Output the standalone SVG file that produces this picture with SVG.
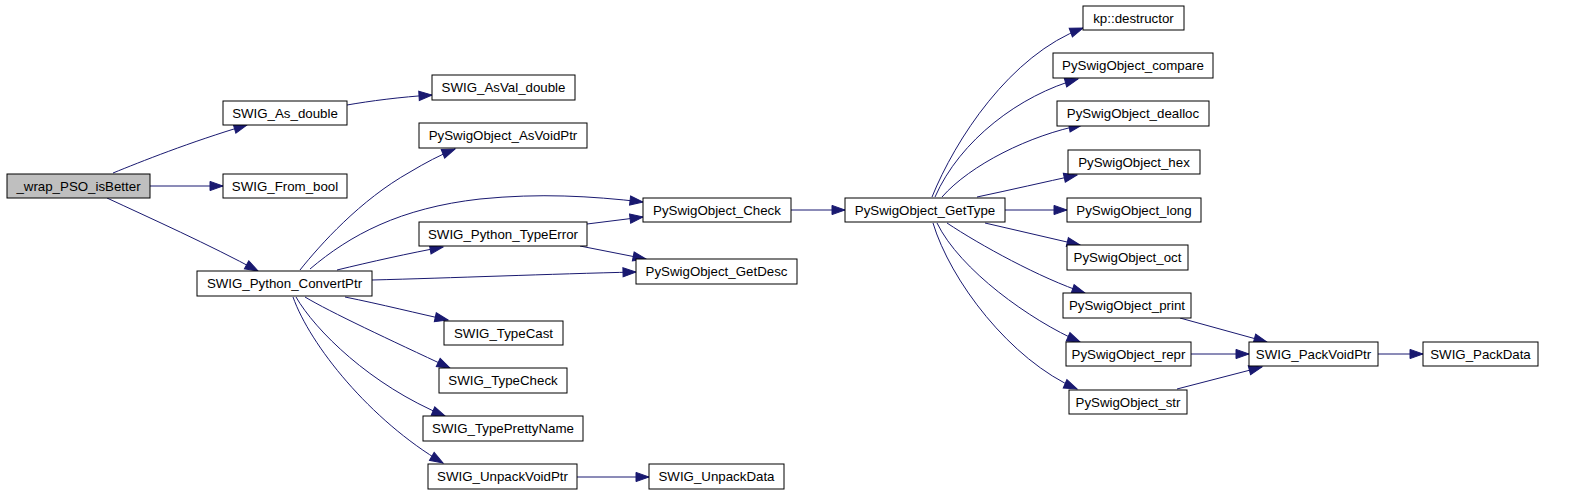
<svg xmlns="http://www.w3.org/2000/svg" width="1571" height="493" viewBox="0 0 1571 493">
<style>
.n rect{fill:#fff;stroke:#000;stroke-width:1}
.n.root rect{fill:#bfbfbf}
.n text{font-family:"Liberation Sans",Arial,sans-serif;font-size:13.3px;text-anchor:middle;fill:#000}
.e path{fill:none;stroke:#191970;stroke-width:1;marker-end:url(#a)}
</style>
<defs>
<marker id="a" markerWidth="14" markerHeight="10" refX="13" refY="4.6" orient="auto" markerUnits="userSpaceOnUse" overflow="visible">
<path d="M0,0 L13,4.6 L0,9.2 z" fill="#191970" stroke="#191970" stroke-width="1"/>
</marker>
</defs>
<rect width="1571" height="493" fill="#fff"/>
<g id="edges" class="e">
<path d="M113,173 C140,162 190,142 247,125"/>
<path d="M150,186 L223,186"/>
<path d="M107,198 C150,218 210,245 258,271"/>
<path d="M347,105 C370,101 400,97 432,95"/>
<path d="M300,270 C320,245 360,200 410,172 C425,163 440,155 455,149"/>
<path d="M310,269 C350,235 400,208 480,199 C540,193 590,196 643,202"/>
<path d="M337,270 C370,262 410,253 443,247"/>
<path d="M587,224 L643,217"/>
<path d="M580,246 L646,259"/>
<path d="M372,280 C450,278 550,274 636,272"/>
<path d="M345,297 C380,304 420,314 448,320"/>
<path d="M305,297 C330,312 390,340 450,368"/>
<path d="M296,297 C315,330 370,385 445,416"/>
<path d="M293,297 C310,345 370,420 443,463"/>
<path d="M577,477 L649,477"/>
<path d="M791,210 L845,210"/>
<path d="M932,197 C955,140 1010,55 1083,28"/>
<path d="M935,197 C960,140 1020,95 1078,79"/>
<path d="M942,197 C970,165 1030,135 1082,125"/>
<path d="M977,197 C1010,190 1045,182 1077,175"/>
<path d="M1005,210 L1067,210"/>
<path d="M985,223 L1080,245"/>
<path d="M947,223 C980,245 1040,278 1085,293"/>
<path d="M937,223 C960,270 1030,320 1080,342"/>
<path d="M933,223 C950,280 1010,360 1077,389"/>
<path d="M1180,318 L1267,342"/>
<path d="M1191,354 L1249,354"/>
<path d="M1177,389 L1262,367"/>
<path d="M1378,354 L1423,354"/>
</g>
<g id="n_wrap" class="n root"><rect x="7" y="174" width="143" height="24"/><text x="78.5" y="191">_wrap_PSO_isBetter</text></g>
<g id="n_as_double" class="n"><rect x="223" y="101" width="124" height="24"/><text x="285" y="118">SWIG_As_double</text></g>
<g id="n_from_bool" class="n"><rect x="223" y="174" width="124" height="24"/><text x="285" y="191">SWIG_From_bool</text></g>
<g id="n_convertptr" class="n"><rect x="197" y="271" width="175" height="25"/><text x="284.5" y="288">SWIG_Python_ConvertPtr</text></g>
<g id="n_asval_double" class="n"><rect x="432" y="75" width="143" height="25"/><text x="503.5" y="92">SWIG_AsVal_double</text></g>
<g id="n_asvoidptr" class="n"><rect x="419" y="123" width="168" height="25"/><text x="503" y="140">PySwigObject_AsVoidPtr</text></g>
<g id="n_typeerror" class="n"><rect x="419" y="222" width="168" height="24"/><text x="503" y="239">SWIG_Python_TypeError</text></g>
<g id="n_check" class="n"><rect x="643" y="198" width="148" height="24"/><text x="717" y="215">PySwigObject_Check</text></g>
<g id="n_getdesc" class="n"><rect x="636" y="259" width="161" height="25"/><text x="716.5" y="276">PySwigObject_GetDesc</text></g>
<g id="n_typecast" class="n"><rect x="444" y="321" width="119" height="24"/><text x="503.5" y="338">SWIG_TypeCast</text></g>
<g id="n_typecheck" class="n"><rect x="439" y="368" width="128" height="25"/><text x="503" y="385">SWIG_TypeCheck</text></g>
<g id="n_prettyname" class="n"><rect x="423" y="416" width="160" height="25"/><text x="503" y="433">SWIG_TypePrettyName</text></g>
<g id="n_unpackvoidptr" class="n"><rect x="428" y="464" width="149" height="25"/><text x="502.5" y="481">SWIG_UnpackVoidPtr</text></g>
<g id="n_unpackdata" class="n"><rect x="649" y="464" width="135" height="25"/><text x="716.5" y="481">SWIG_UnpackData</text></g>
<g id="n_gettype" class="n"><rect x="845" y="198" width="160" height="24"/><text x="925" y="215">PySwigObject_GetType</text></g>
<g id="n_destructor" class="n"><rect x="1083" y="6" width="101" height="24"/><text x="1133.5" y="23">kp::destructor</text></g>
<g id="n_compare" class="n"><rect x="1053" y="53" width="160" height="25"/><text x="1133" y="70">PySwigObject_compare</text></g>
<g id="n_dealloc" class="n"><rect x="1057" y="101" width="152" height="25"/><text x="1133" y="118">PySwigObject_dealloc</text></g>
<g id="n_hex" class="n"><rect x="1068" y="150" width="132" height="24"/><text x="1134" y="167">PySwigObject_hex</text></g>
<g id="n_long" class="n"><rect x="1067" y="198" width="134" height="24"/><text x="1134" y="215">PySwigObject_long</text></g>
<g id="n_oct" class="n"><rect x="1067" y="245" width="121" height="25"/><text x="1127.5" y="262">PySwigObject_oct</text></g>
<g id="n_print" class="n"><rect x="1063" y="293" width="128" height="25"/><text x="1127" y="310">PySwigObject_print</text></g>
<g id="n_repr" class="n"><rect x="1066" y="342" width="125" height="24"/><text x="1128.5" y="359">PySwigObject_repr</text></g>
<g id="n_str" class="n"><rect x="1069" y="390" width="118" height="24"/><text x="1128" y="407">PySwigObject_str</text></g>
<g id="n_packvoidptr" class="n"><rect x="1249" y="342" width="129" height="24"/><text x="1313.5" y="359">SWIG_PackVoidPtr</text></g>
<g id="n_packdata" class="n"><rect x="1423" y="342" width="115" height="24"/><text x="1480.5" y="359">SWIG_PackData</text></g>
</svg>
